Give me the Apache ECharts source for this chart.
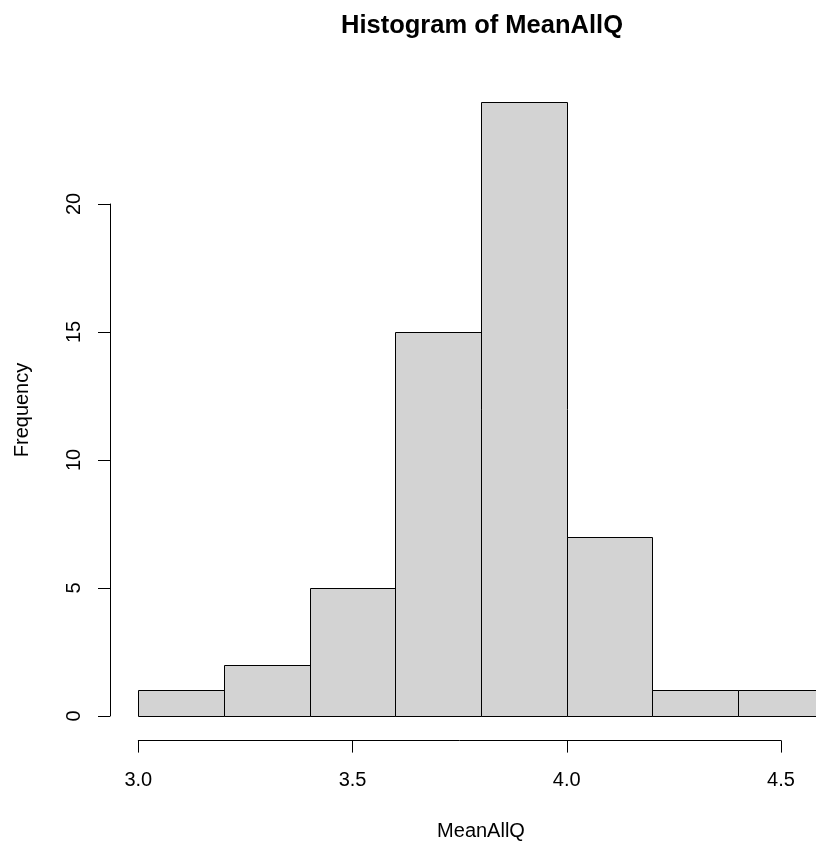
<!DOCTYPE html>
<html>
<head>
<meta charset="utf-8">
<script src="https://cdn.jsdelivr.net/npm/echarts@6/dist/echarts.min.js"></script>
<style>
  html, body { margin: 0; padding: 0; background: #fff; }
  #chart { width: 816px; height: 841px; }
</style>
</head>
<body>
<div id="chart"></div>
<script>
// histogram bins
const breaks = [3.0, 3.2, 3.4, 3.6, 3.8, 4.0, 4.2, 4.4, 4.6]
const counts = [1, 2, 5, 15, 24, 7, 1, 1]
const xTicks = [3.0, 3.5, 4.0, 4.5]
const yTicks = [0, 5, 10, 15, 20]

const font = '"Liberation Sans", Arial, sans-serif'
const fontSize = 20

const bins = counts.map((c, i) => [breaks[i], breaks[i + 1], c])

const chart = echarts.init(document.getElementById('chart'))

const option = {
  animation: false,
  backgroundColor: '#fff',
  grid: [
    // plot region (R extends ranges by 4%)
    { left: 110, right: 0, top: 77, bottom: 100.4 },
    // x axis display, ticks 3.0 .. 4.5
    { left: 138.3, width: 642.7, bottom: 100.4, height: 40 },
    // y axis display, ticks 0 .. 20
    { left: 110, top: 204, height: 512, width: 100 }
  ],
  xAxis: [
    { gridIndex: 0, type: 'value', min: 2.934, max: 4.5816, show: false },
    {
      gridIndex: 1,
      type: 'value',
      min: xTicks[0],
      max: xTicks[xTicks.length - 1],
      interval: 0.5,
      axisLine: { lineStyle: { color: '#000', width: 1 } },
      axisTick: { length: 12, lineStyle: { color: '#000' } },
      splitLine: { show: false },
      axisLabel: {
        color: '#000',
        fontFamily: font,
        fontSize: fontSize,
        margin: 30,
        formatter: v => v.toFixed(1)
      }
    },
    { gridIndex: 2, type: 'value', show: false }
  ],
  yAxis: [
    { gridIndex: 0, type: 'value', min: -0.96, max: 24.96, show: false },
    { gridIndex: 1, type: 'value', show: false },
    {
      gridIndex: 2,
      type: 'value',
      min: yTicks[0],
      max: yTicks[yTicks.length - 1],
      interval: 5,
      axisLine: { show: true, lineStyle: { color: '#000', width: 1 } },
      axisTick: { show: true, length: 12, lineStyle: { color: '#000' } },
      splitLine: { show: false },
      axisLabel: {
        color: '#000',
        fontFamily: font,
        fontSize: fontSize,
        rotate: 90,
        margin: 26
      }
    }
  ],
  series: [{
    type: 'custom',
    xAxisIndex: 0,
    yAxisIndex: 0,
    clip: true,
    data: bins,
    renderItem: (params, api) => {
      const p0 = api.coord([api.value(0), 0])
      const p1 = api.coord([api.value(1), api.value(2)])
      const x0 = Math.round(p0[0]) + 0.5
      const x1 = Math.round(p1[0]) + 0.5
      const yb = Math.round(p0[1]) + 0.5
      const yt = Math.round(p1[1]) + 0.5
      return {
        type: 'rect',
        shape: { x: x0, y: yt, width: x1 - x0, height: yb - yt },
        style: { fill: '#d3d3d3', stroke: '#000', lineWidth: 1 }
      }
    }
  }],
  graphic: [
    {
      type: 'text',
      x: 482,
      y: 26,
      style: {
        text: 'Histogram of MeanAllQ',
        fill: '#000',
        font: 'bold 25.5px ' + font,
        align: 'center',
        verticalAlign: 'middle'
      }
    },
    {
      type: 'text',
      x: 481,
      y: 831,
      style: {
        text: 'MeanAllQ',
        fill: '#000',
        font: fontSize + 'px ' + font,
        align: 'center',
        verticalAlign: 'middle'
      }
    },
    {
      type: 'text',
      x: 22,
      y: 410,
      rotation: Math.PI / 2,
      style: {
        text: 'Frequency',
        fill: '#000',
        font: fontSize + 'px ' + font,
        align: 'center',
        verticalAlign: 'middle'
      }
    }
  ]
}

chart.setOption(option)
</script>
</body>
</html>
